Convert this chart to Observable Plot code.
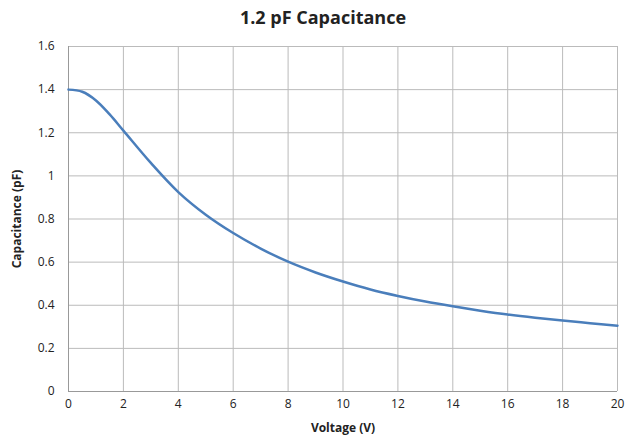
<!DOCTYPE html>
<html>
<head>
<meta charset="utf-8">
<script src="https://cdn.jsdelivr.net/npm/d3@7"></script>
<script src="https://cdn.jsdelivr.net/npm/@observablehq/plot@0.6"></script>
<style>
  body { margin: 0; background: #fff; font-family: "Open Sans", sans-serif; }
  #title { height: 30px; line-height: 34px; text-align: center; font-weight: bold; font-size: 18px; color: #222; padding-left: 20px; }
</style>
</head>
<body>
<div id="title">1.2 pF Capacitance</div>
<div id="chart"></div>
<script>
// Voltage (V) and capacitance (pF)
const voltage = [0, 0.5, 1, 1.5, 2, 3, 4, 5, 6, 7, 8, 9, 10, 11, 12, 13, 14, 15, 16, 17, 18, 19, 20];
const capacitance = [1.40, 1.39, 1.35, 1.285, 1.21, 1.06, 0.925, 0.82, 0.735, 0.663, 0.602, 0.552, 0.51, 0.473, 0.443, 0.417, 0.395, 0.375, 0.357, 0.342, 0.329, 0.317, 0.305];
const xTicks = d3.range(0, 21, 2);
const yTicks = [0, 0.2, 0.4, 0.6, 0.8, 1, 1.2, 1.4, 1.6];

const data = voltage.map((v, i) => ({v, c: capacitance[i]}));

const plot = Plot.plot({
  width: 626,
  height: 416,
  marginLeft: 68,
  marginRight: 9,
  marginTop: 16,
  marginBottom: 55,
  style: {fontSize: "12px", fontFamily: "Open Sans, sans-serif", color: "#222"},
  x: {domain: [0, 20], ticks: xTicks, tickSize: 0, tickPadding: 8, label: "Voltage (V)", labelArrow: "none", labelAnchor: "center", labelOffset: 40},
  y: {domain: [0, 1.6], ticks: yTicks, tickSize: 0, tickPadding: 14, tickFormat: d => String(d), label: "Capacitance (pF)", labelArrow: "none", labelAnchor: "center", labelOffset: 56},
  marks: [
    Plot.gridX(xTicks, {stroke: "#bbb", strokeOpacity: 1}),
    Plot.gridY(yTicks, {stroke: "#bbb", strokeOpacity: 1}),
    Plot.ruleX([0], {stroke: "#999"}),
    Plot.ruleY([0], {stroke: "#999"}),
    Plot.line(data, {x: "v", y: "c", curve: "catmull-rom", stroke: "#4a7ebb", strokeWidth: 2.5})
  ]
});
plot.querySelectorAll("[aria-label='x-axis label'] text, [aria-label='y-axis label'] text").forEach(t => t.setAttribute("font-weight", "bold"));
document.getElementById("chart").appendChild(plot);
</script>
</body>
</html>
